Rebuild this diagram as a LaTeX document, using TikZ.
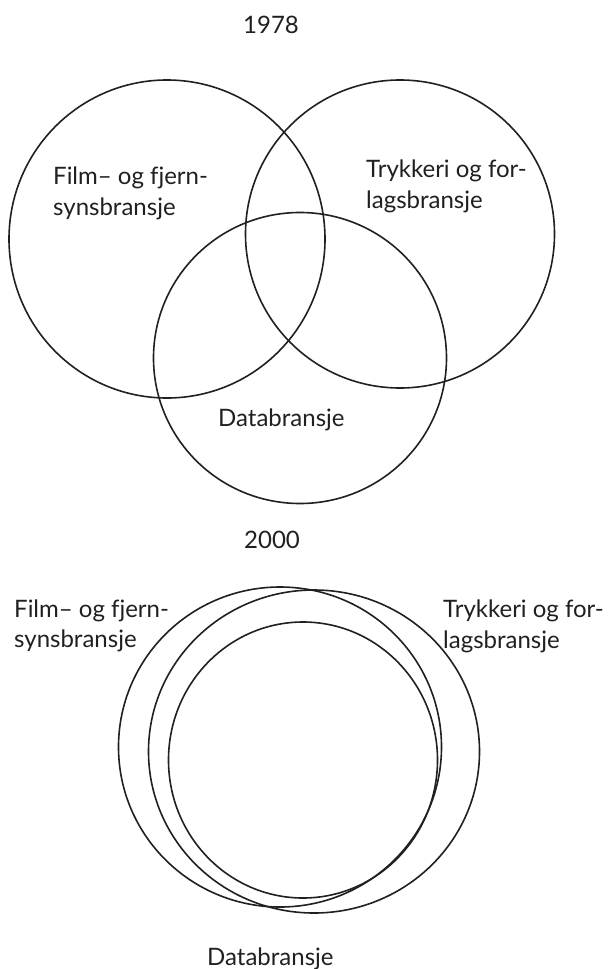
\documentclass[tikz,border=0pt]{standalone}
\usepackage{fontspec}
\setmainfont{Lato}[Ligatures=NoCommon]
\definecolor{ink}{HTML}{231F20}
\begin{document}
\begin{tikzpicture}[x=1pt,y=-1pt,
  ring/.style={draw=ink,line width=1.6pt},
  lbl/.style={inner sep=0pt,anchor=base west,text=ink,font=\fontsize{24}{29}\selectfont},
  title/.style={inner sep=0pt,anchor=base,text=ink,font=\fontsize{24}{29}\selectfont}]
\useasboundingbox (0,0) rectangle (612,969);
% ---------- 1978 ----------
\node[title] (t1978) at (271,33) {1978};
\draw[ring] (167,239) ellipse [x radius=158, y radius=159];
\draw[ring] (400,234) ellipse [x radius=154.5, y radius=154];
\draw[ring] (300,358) ellipse [x radius=146.5, y radius=145.5];
\node[lbl] (fa1) at (53,184) {Film– og fjern-};
\node[lbl] (fa2) at (53,215) {synsbransje};
\node[lbl] (ta1) at (366,177) {Trykkeri og for-};
\node[lbl] (ta2) at (366,208) {lagsbransje};
\node[lbl] (da) at (218,426) {Databransje};
% ---------- 2000 ----------
\node[title] (t2000) at (272,548) {2000};
\draw[ring] (280,747) ellipse [x radius=161.5, y radius=160];
\draw[ring] (314,751.5) ellipse [x radius=165.5, y radius=161.5];
\draw[ring] (303,760) ellipse [x radius=134.5, y radius=138];
\node[lbl] (fb1) at (14,617) {Film– og fjern-};
\node[lbl] (fb2) at (14,647) {synsbransje};
\node[lbl] (tb1) at (443,617) {Trykkeri og for-};
\node[lbl] (tb2) at (443,648) {lagsbransje};
\node[lbl] (db) at (207,965) {Databransje};
\end{tikzpicture}
\end{document}
